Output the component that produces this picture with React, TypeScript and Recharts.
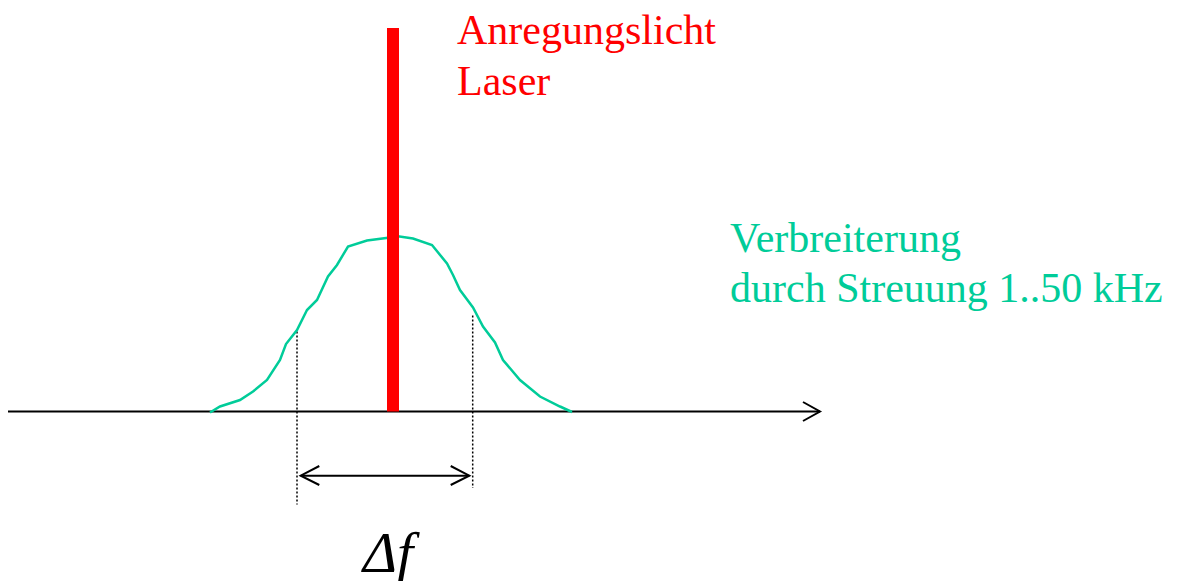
import React from "react";
import { ComposedChart, Line, Scatter, XAxis, YAxis } from "recharts";

// frequency axis position (arbitrary units) vs. intensity (0 = baseline)
const axisLine = [
  { x: 8, y: 0 },
  { x: 820, y: 0 },
];
const axisHead = [
  { x: 803, y: 9.5 },
  { x: 820, y: 0 },
  { x: 803, y: -9.5 },
];

const laser = [
  { x: 393, y: 0 },
  { x: 393, y: 383.5 },
];

const broadening = [
  { x: 210, y: -1 },
  { x: 220, y: 5 },
  { x: 240, y: 11.5 },
  { x: 253, y: 20 },
  { x: 267, y: 31.5 },
  { x: 280, y: 51.5 },
  { x: 286, y: 67.5 },
  { x: 297, y: 81.5 },
  { x: 307, y: 101.5 },
  { x: 317, y: 111.5 },
  { x: 328, y: 135 },
  { x: 337, y: 146.5 },
  { x: 348, y: 165 },
  { x: 367, y: 171 },
  { x: 390, y: 174 },
  { x: 393, y: 176 },
  { x: 413, y: 173 },
  { x: 432, y: 166.5 },
  { x: 447, y: 148 },
  { x: 453, y: 136.5 },
  { x: 460, y: 121.5 },
  { x: 473, y: 104 },
  { x: 483, y: 85 },
  { x: 495, y: 69 },
  { x: 503, y: 51.5 },
  { x: 520, y: 31.5 },
  { x: 540, y: 15 },
  { x: 560, y: 5 },
  { x: 572, y: -0.5 },
];

const markLeft = [
  { x: 297, y: 80 },
  { x: 297, y: -93 },
];
const markRight = [
  { x: 472.7, y: 96 },
  { x: 472.7, y: -76.5 },
];

const widthLine = [
  { x: 300.7, y: -64.2 },
  { x: 469.3, y: -64.2 },
];
const widthHeadL = [
  { x: 319.3, y: -54.5 },
  { x: 300.7, y: -64.2 },
  { x: 319.3, y: -73.5 },
];
const widthHeadR = [
  { x: 450.7, y: -54.5 },
  { x: 469.3, y: -64.2 },
  { x: 450.7, y: -73.5 },
];

const labels = [
  { x: 457, y: 367.5, text: "Anregungslicht", color: "#ff0000", size: 42, italic: false },
  { x: 457, y: 316.5, text: "Laser", color: "#ff0000", size: 42, italic: false },
  { x: 730, y: 159.8, text: "Verbreiterung", color: "#00cc99", size: 42, italic: false },
  { x: 730, y: 109.8, text: "durch Streuung 1..50 kHz", color: "#00cc99", size: 42, italic: false },
  { x: 363, y: -160, text: "Δf", color: "#000000", size: 58, italic: true },
];

const serif = "Liberation Serif";

const seg = (key: string, data: { x: number; y: number }[], stroke: string, width: number, dash?: string) => (
  <Line
    key={key}
    data={data}
    dataKey="y"
    type="linear"
    stroke={stroke}
    strokeWidth={width}
    strokeDasharray={dash}
    strokeLinecap="butt"
    dot={false}
    activeDot={false}
    isAnimationActive={false}
  />
);

const TextMark = (p: any) => {
  const l = p.payload;
  return (
    <text
      x={p.cx}
      y={p.cy}
      fill={l.color}
      textAnchor="start"
      style={{ fontFamily: serif, fontSize: l.size, fontStyle: l.italic ? "italic" : "normal" }}
    >
      {l.text}
    </text>
  );
};

export default function App() {
  return (
    <div style={{ position: "absolute", left: 0, top: 0, background: "#fff" }}>
      <ComposedChart width={1182} height={581} margin={{ top: 0, right: 0, bottom: 0, left: 0 }}>
        <XAxis dataKey="x" type="number" domain={[0, 1182]} hide allowDataOverflow />
        <YAxis dataKey="y" type="number" domain={[-169.5, 411.5]} hide allowDataOverflow />
        {seg("axis", axisLine, "#000", 2)}
        {seg("axisHead", axisHead, "#000", 2)}
        {seg("markL", markLeft, "#000", 1.5, "2 2")}
        {seg("markR", markRight, "#000", 1.5, "2 2")}
        {seg("width", widthLine, "#000", 2)}
        {seg("headL", widthHeadL, "#000", 2)}
        {seg("headR", widthHeadR, "#000", 2)}
        {seg("curve", broadening, "#00cc99", 2.5)}
        {seg("laser", laser, "#ff0000", 12)}
        <Scatter data={labels} dataKey="y" shape={TextMark} isAnimationActive={false} />
      </ComposedChart>
    </div>
  );
}
